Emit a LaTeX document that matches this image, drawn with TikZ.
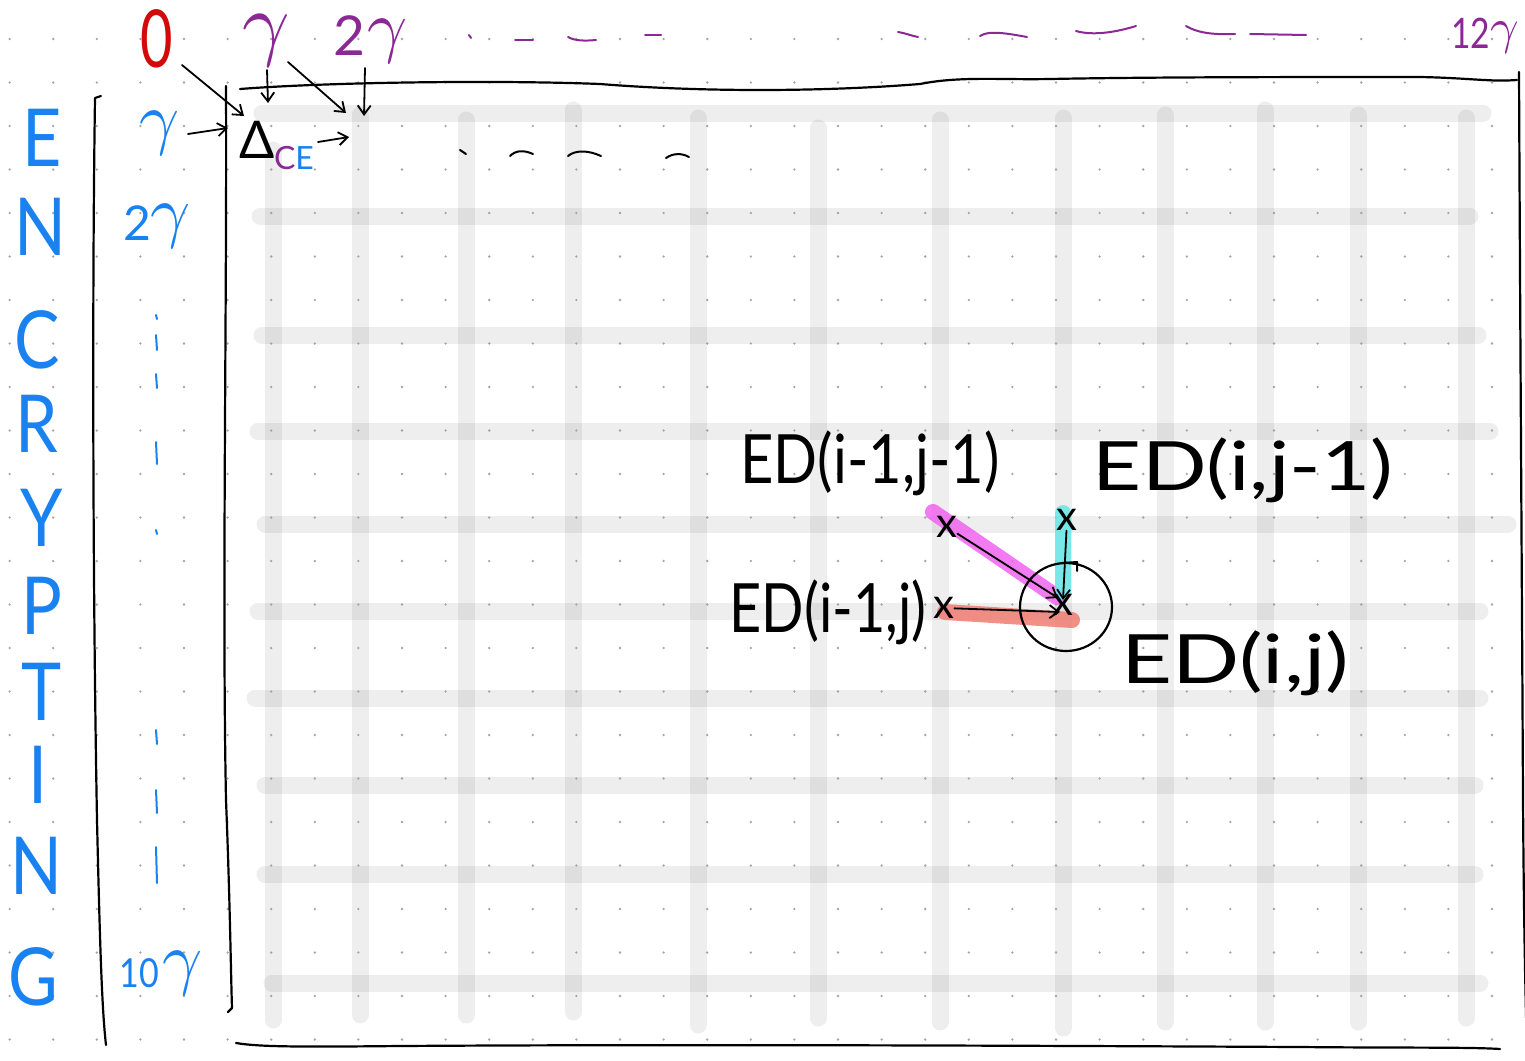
\documentclass[tikz,border=0pt]{standalone}
\usepackage{fontspec}
\setmainfont{Lato}
\usetikzlibrary{arrows.meta}
\definecolor{hred}{RGB}{210,10,10}
\definecolor{hpurple}{RGB}{140,40,150}
\definecolor{hblue}{RGB}{25,130,240}
\definecolor{hmag}{RGB}{240,100,240}
\definecolor{hcyan}{RGB}{100,232,232}
\definecolor{hsal}{RGB}{240,125,115}
\definecolor{hdot}{RGB}{165,165,165}
\newcommand{\gam}[1]{\scalebox{#1}{\normalsize$\gamma$}}
\tikzset{
  band/.style={line width=17pt, black, opacity=0.065, line cap=round},
  ink/.style={line width=2.2pt, black, line cap=round, line join=round},
  pen/.style={line width=2pt, line cap=round, line join=round},
  harrow/.style={line width=1.8pt, black, line cap=round, -{Straight Barb[length=9pt,width=13pt,line width=1.8pt]}},
  lbl/.style={inner sep=0pt, outer sep=0pt},
  big/.style={lbl, font=\fontsize{80}{80}\selectfont},
  edtxt/.style={lbl, font=\fontsize{68}{68}\selectfont},
  xmark/.style={lbl, font=\fontsize{42}{42}\selectfont},
  hl/.style={line width=16pt, line cap=round, opacity=0.85},
}
\begin{document}
\begin{tikzpicture}[x=1pt,y=-1pt]
\useasboundingbox (0,0) rectangle (1525,1060);
\fill[white] (0,0) rectangle (1525,1060);
% gray bands
\foreach \y/\a/\b in {113/262/1483, 216/260/1470, 335/262/1478, 431/258/1490, 524/265/1508, 611/258/1480, 698/255/1480, 785/265/1475, 874/265/1475, 983/272/1480}
  \draw[band] (\a,\y) -- (\b,\y);
\foreach \x/\a/\b in {273/150/1020, 360/115/1015, 466/120/1015, 573/110/1012, 698/118/1025, 818/128/1018, 940/120/1022, 1063/118/1028, 1165/115/1022, 1265/110/1022, 1358/115/1022, 1466/118/1018}
  \draw[band] (\x,\a) -- (\x,\b);
% dot grid
\foreach \i in {0,...,34}
  \foreach \j in {0,...,23}
    \fill[hdot] ({9.6+43.6*\i},{39+43.5*\j}) circle (1.3);
% frame lines
\draw[ink] (101,96) -- (95,98) .. controls (92,300) and (93,600) .. (97,820) .. controls (100,950) and (102,1010) .. (106,1045);
\draw[ink] (226,86) .. controls (227,300) and (222,600) .. (226,800) .. controls (230,900) and (231,980) .. (232,1008) -- (228,1012);
\draw[ink] (240,89) .. controls (330,82) and (500,80) .. (600,84) .. controls (700,92) and (820,92) .. (920,84) .. controls (960,76) and (1000,80) .. (1050,79) .. controls (1150,77) and (1300,77) .. (1420,77) .. controls (1470,78) and (1490,82) .. (1517,80);
\draw[ink] (1519,72) .. controls (1520,300) and (1522,600) .. (1523,800) .. controls (1524,950) and (1526,1010) .. (1527,1058);
\draw[ink] (236,1043) .. controls (260,1047) and (300,1047) .. (400,1046) .. controls (700,1044) and (1100,1046) .. (1300,1047) .. controls (1400,1048) and (1470,1047) .. (1500,1049);
% top labels
\node[big, text=hred] (zero) at (157,39) {\scalebox{0.7}[1]{0}};
\node[lbl, text=hpurple] (g1) at (266,41) {\gam{8.3}};
\node[lbl, text=hpurple, font=\fontsize{55}{55}\selectfont] (g2) at (371,39) {2\hspace{2pt}\raisebox{6pt}{\gam{7}}};
\node[lbl, text=hpurple, font=\fontsize{42}{42}\selectfont] (g12) at (1485,36) {\scalebox{0.8}[1]{12}\raisebox{5pt}{\gam{5}}};
% top dash marks
\draw[pen, hpurple] (469,35) -- (471,38);
\draw[pen, hpurple] (515,40) -- (533,40);
\draw[pen, hpurple] (568,37) .. controls (575,41) and (585,41) .. (596,40);
\draw[pen, hpurple] (645,35) -- (661,35);
\draw[pen, hpurple] (898,32) .. controls (905,33) and (912,36) .. (918,37);
\draw[pen, hpurple] (980,36) .. controls (988,31) and (1000,32) .. (1027,37);
\draw[pen, hpurple] (1076,31) .. controls (1090,35) and (1110,34) .. (1136,26);
\draw[pen, hpurple] (1186,26) .. controls (1196,32) and (1210,35) .. (1235,34);
\draw[pen, hpurple] (1250,34) -- (1306,35);
% left labels
\node[lbl, text=hblue] (lg1) at (160,133) {\gam{7}};
\node[lbl, text=hblue, font=\fontsize{48}{48}\selectfont] (lg2) at (157,226) {2\raisebox{6pt}{\gam{7}}};
\node[lbl, text=hblue, font=\fontsize{40}{40}\selectfont] (lg10) at (161,973) {\scalebox{0.85}[1]{10}\hspace{3pt}\raisebox{6pt}{\gam{7}}};
\foreach \a/\b in {315/319, 335/350, 374/388, 442/464, 530/534, 730/744, 790/813, 847/883}
  \draw[pen, hblue] (156,\a) -- (157,\b);
% ENCRYPTING
\foreach \ch/\x/\y [count=\k] in {E/42/138, N/40/227, C/37/340, R/37/424, Y/42/518, P/42/606, T/42/692, I/38/775, N/36/866, G/33/977}
  \node[big, text=hblue] (enc\k) at (\x,\y) {\scalebox{0.85}[1]{\ch}};
% Delta CE
\node[lbl, font=\fontsize{52}{52}\selectfont] (delta) at (257,140) {Δ};
\node[lbl, font=\fontsize{32}{32}\selectfont, anchor=west] (ce) at (274,158) {\textcolor{hpurple}{C}\textcolor{hblue}{E}};
% row 1 black marks
\draw[pen] (460,150) -- (466,154);
\draw[pen] (510,156) .. controls (516,150) and (524,150) .. (533,154);
\draw[pen] (568,156) .. controls (575,150) and (588,150) .. (601,156);
\draw[pen] (666,158) .. controls (673,153) and (682,153) .. (689,157);
% top-left arrows
\coordinate (a0s) at (182,65); \coordinate (a0e) at (244,116);
\coordinate (a1s) at (267,70); \coordinate (a1e) at (268,103);
\coordinate (a2s) at (288,62); \coordinate (a2e) at (346,113);
\coordinate (a3s) at (365,68); \coordinate (a3e) at (364,116);
\coordinate (a4s) at (188,134); \coordinate (a4e) at (228,128);
\coordinate (a5s) at (318,142); \coordinate (a5e) at (349,137);
\draw[harrow] (a0s) -- (a0e);
\draw[harrow] (a1s) -- (a1e);
\draw[harrow] (a2s) -- (a2e);
\draw[harrow] (a3s) -- (a3e);
\draw[harrow] (a4s) -- (a4e);
\draw[harrow] (a5s) -- (a5e);
% highlights
\draw[hl, hmag] (933,512) -- (1057,597);
\draw[hl, hcyan] (1063,513) -- (1063,592);
\draw[hl, hsal] (945,612) -- (1072,620);
% ED labels
\node[edtxt] (ed11) at (870,463) {\scalebox{0.85}[1]{ED(i-1,j-1)}};
\node[edtxt] (ed01) at (1243,470) {\scalebox{1.25}[1]{ED(i,j-1)}};
\node[edtxt] (ed10) at (828,612) {\scalebox{0.82}[1]{ED(i-1,j)}};
\node[edtxt] (ed00) at (1235,663) {\scalebox{1.3}[1]{ED(i,j)}};
% cell circle
\draw[ink] (1066,607) ellipse (46 and 44);
\draw[pen] (1062,563) -- (1077,562) -- (1077,571);
% x marks
\node[xmark] (x11) at (947,527) {x};
\node[xmark] (x01) at (1067,520) {x};
\node[xmark] (x10) at (944,608) {x};
\node[xmark] (x00) at (1063,605) {x};
\draw[harrow] (x11) -- (1058,598);
\draw[harrow] (x01) -- (1063,600);
\draw[harrow] (x10) -- (1060,612);
\end{tikzpicture}
\end{document}
